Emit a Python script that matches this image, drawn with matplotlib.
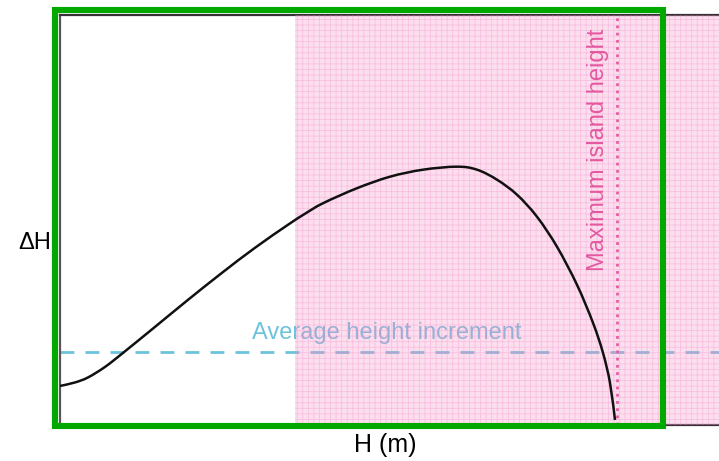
import matplotlib
matplotlib.use("Agg")
import numpy as np
import matplotlib.pyplot as plt
from matplotlib.patches import Rectangle, PathPatch
from matplotlib.path import Path

plt.rcParams['font.family'] = ['Liberation Sans', 'DejaVu Sans']
plt.rcParams['hatch.linewidth'] = 0.6

# Data (arbitrary units)
h_values = [0, 1.5, 2.8, 4.5, 6.3, 9.5, 12.8, 16.2, 19.5, 22.8, 24.5, 26.3, 29.7, 33.0,
            36.3, 39.7, 41.7, 43.7, 45.7, 47.7, 49.7, 51.7, 53.3, 54.3, 55.0, 55.5]
dh_values = [3.9, 4.25, 4.75, 5.8, 7.2, 9.8, 12.5, 15.2, 17.7, 20.0, 21.1, 22.15, 23.65, 24.8,
             25.5, 25.8, 25.5, 24.5, 23.0, 20.8, 17.8, 14.0, 10.2, 7.2, 4.2, 0.5]
avg_increment = 7.3
max_island_height = 55.7
island_zone_start = 23.5
x_limits = (0, 70)
y_limits = (0, 41)

fig = plt.figure(figsize=(7.19, 4.61), dpi=100)
W, H = 719, 461
ax = fig.add_axes([60 / W, (H - 425) / H, 700 / W, 410.5 / H])
ax.set_xlim(*x_limits)
ax.set_ylim(*y_limits)

# Smooth curve through the data points (Catmull-Rom -> cubic Bezier path)
pts = np.column_stack([h_values, dh_values])
verts = [pts[0]]
codes = [Path.MOVETO]
n = len(pts)
for i in range(n - 1):
    p0 = pts[i - 1] if i > 0 else pts[i]
    p1 = pts[i]
    p2 = pts[i + 1]
    p3 = pts[i + 2] if i + 2 < n else pts[i + 1]
    c1 = p1 + (p2 - p0) / 6.0
    c2 = p2 - (p3 - p1) / 6.0
    verts += [c1, c2, p2]
    codes += [Path.CURVE4] * 3
curve = PathPatch(Path(verts, codes), fill=False, edgecolor='#111111', lw=1.8, zorder=6)
ax.add_patch(curve)

ax.axhline(avg_increment, color='#6cc3db', lw=2, dashes=(5, 4), zorder=2)
ax.text(32.7, avg_increment + 0.8, 'Average height increment', color='#6cc3db',
        fontsize=17, ha='center', va='bottom', zorder=2)

ax.axvspan(island_zone_start, x_limits[1], facecolor=(0.97, 0.55, 0.78, 0.28),
           edgecolor=(0.96, 0.55, 0.78, 0.38), hatch='+++', lw=0, zorder=4)

ax.axvline(max_island_height, color='#ea5ba5', ls=(0, (1, 1.6)), lw=2, zorder=5)
ax.text(53.8, 27.5, 'Maximum island height', color='#e4589f', fontsize=17,
        rotation=90, ha='center', va='center', zorder=5)

ax.set_xticks([])
ax.set_yticks([])
for s in ['top', 'bottom', 'left', 'right']:
    ax.spines[s].set_color('#333333')
    ax.spines[s].set_linewidth(1.6)
ax.spines['left'].set_color('#555555')

fig.text(385 / W, 1 - 445 / H, 'H (m)', fontsize=18, ha='center', va='center')
fig.text(35 / W, 1 - 243 / H, 'ΔH', fontsize=17, ha='center', va='center')

fig.patches.append(Rectangle((55 / W, (H - 426) / H), 608 / W, 416 / H,
                             transform=fig.transFigure, fill=False,
                             edgecolor='#00a800', lw=4.4, zorder=10))

fig.savefig('out.png', dpi=100)
